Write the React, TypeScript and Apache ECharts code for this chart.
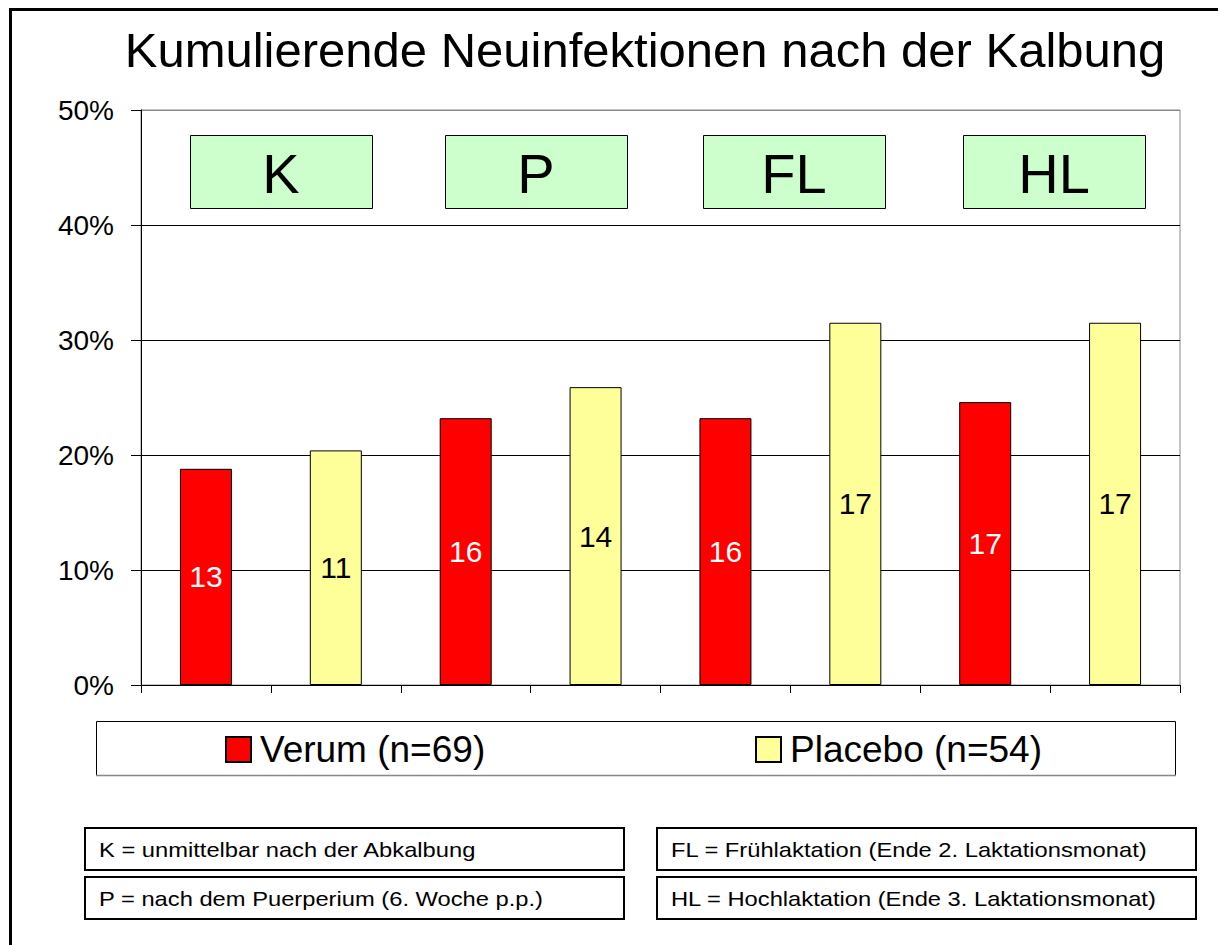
import React, { useEffect, useRef } from "react";
import * as echarts from "echarts";

const categories = ["K-V", "K-P", "P-V", "P-P", "FL-V", "FL-P", "HL-V", "HL-P"];
const verumPct = [18.8, "-", 23.2, "-", 23.2, "-", 24.6, "-"];
const placeboPct = ["-", 20.4, "-", 25.9, "-", 31.5, "-", 31.5];
const verumCounts = [13, null, 16, null, 16, null, 17, null];
const placeboCounts = [null, 11, null, 14, null, 17, null, 17];
const yTicks = [0, 10, 20, 30, 40, 50];
const phaseLabels = ["K", "P", "FL", "HL"];
const seriesNames = ["Verum (n=69)", "Placebo (n=54)"];
const notes = [
  "K = unmittelbar nach der Abkalbung",
  "P = nach dem Puerperium (6. Woche p.p.)",
  "FL = Frühlaktation (Ende 2. Laktationsmonat)",
  "HL = Hochlaktation (Ende 3. Laktationsmonat)",
];

const FONT = "'Liberation Sans', Arial, sans-serif";

export default function App() {
  const ref = useRef<HTMLDivElement>(null);
  useEffect(() => {
    document.body.style.margin = "0";
    const chart = echarts.init(ref.current!, null, { renderer: "svg" });
    const phaseBoxX = [190, 445, 703, 963];
    const graphics: any[] = [];
    // outer frame (top + left)
    graphics.push({ type: "line", shape: { x1: 9, y1: 9.5, x2: 1218, y2: 9.5 }, style: { stroke: "#000", lineWidth: 3 } });
    graphics.push({ type: "line", shape: { x1: 10.5, y1: 8, x2: 10.5, y2: 945 }, style: { stroke: "#000", lineWidth: 3 } });
    phaseLabels.forEach((lab, i) => {
      graphics.push({
        type: "group",
        children: [
          { type: "rect", shape: { x: phaseBoxX[i] + 0.5, y: 135.5, width: 182, height: 73 }, style: { fill: "#ccffcc", stroke: "#000", lineWidth: 1 } },
          { type: "text", x: phaseBoxX[i] + 91, y: 173, style: { text: lab, font: `56px ${FONT}`, fill: "#000", align: "center", verticalAlign: "middle" } },
        ],
      });
    });
    // legend box
    graphics.push({ type: "rect", z: -1, shape: { x: 96.5, y: 721.5, width: 1079, height: 54 }, style: { fill: "#fff", stroke: "#000", lineWidth: 1 } });
    graphics.push({ type: "line", z: 0, shape: { x1: 96, y1: 775.5, x2: 1176, y2: 775.5 }, style: { stroke: "#888", lineWidth: 1.5 } });
    // notes boxes
    const noteBoxes = [
      [85, 828],
      [85, 877],
      [657, 828],
      [657, 877],
    ];
    notes.forEach((txt, i) => {
      const [x, y] = noteBoxes[i];
      graphics.push({ type: "rect", shape: { x: x, y: y, width: 539, height: 42 }, style: { fill: "#fff", stroke: "#000", lineWidth: 2 } });
      graphics.push({ type: "text", x: x + 14, y: y + 22, scaleX: 1.13, style: { text: txt, font: `21px ${FONT}`, fill: "#000", align: "left", verticalAlign: "middle" } });
    });

    const legendCommon = {
      icon: "rect",
      itemWidth: 25,
      itemHeight: 25,
      top: 731,
      padding: 0,
      textStyle: { fontFamily: FONT, fontSize: 37, color: "#000", padding: [0, 0, 0, 4] },
    };

    chart.setOption({
      animation: false,
      backgroundColor: "#fff",
      title: {
        text: "Kumulierende Neuinfektionen nach der Kalbung",
        left: 640,
        textAlign: "center",
        top: 20,
        textStyle: { fontFamily: FONT, fontSize: 49, fontWeight: "normal", color: "#000" },
      },
      grid: { left: 141, right: 41, top: 110, bottom: 260, show: true, borderColor: "#888", borderWidth: 1, backgroundColor: "#fff" },
      legend: [
        { ...legendCommon, data: [seriesNames[0]], left: 225 },
        { ...legendCommon, data: [seriesNames[1]], left: 755 },
      ],
      xAxis: {
        type: "category",
        data: categories,
        boundaryGap: true,
        axisLine: { lineStyle: { color: "#000", width: 1 } },
        axisTick: { show: true, length: 8, alignWithLabel: false, lineStyle: { color: "#000" } },
        axisLabel: { show: false },
        splitLine: { show: false },
      },
      yAxis: {
        type: "value",
        min: yTicks[0],
        max: yTicks[yTicks.length - 1],
        interval: 10,
        axisLine: { show: true, lineStyle: { color: "#000", width: 1 } },
        axisTick: { show: true, length: 10, lineStyle: { color: "#000" } },
        axisLabel: { formatter: "{value}%", fontFamily: FONT, fontSize: 28, color: "#000", margin: 27 },
        splitLine: { show: true, lineStyle: { color: ["#000", "#000", "#000", "#000", "#000", "#888"], width: 1 } },
      },
      series: [
        {
          name: seriesNames[0],
          type: "bar",
          stack: "s",
          barWidth: 52,
          data: verumPct,
          itemStyle: { color: "#ff0000", borderColor: "#000", borderWidth: 1 },
          label: {
            show: true,
            position: "inside",
            fontFamily: FONT,
            fontSize: 30,
            color: "#fff",
            formatter: (p: any) => (verumCounts[p.dataIndex] == null ? "" : String(verumCounts[p.dataIndex])),
          },
        },
        {
          name: seriesNames[1],
          type: "bar",
          stack: "s",
          barWidth: 52,
          data: placeboPct,
          itemStyle: { color: "#ffff99", borderColor: "#000", borderWidth: 1 },
          label: {
            show: true,
            position: "inside",
            fontFamily: FONT,
            fontSize: 30,
            color: "#000",
            formatter: (p: any) => (placeboCounts[p.dataIndex] == null ? "" : String(placeboCounts[p.dataIndex])),
          },
        },
      ],
      graphic: graphics,
    });
    return () => chart.dispose();
  }, []);
  return <div ref={ref} style={{ width: 1221, height: 945 }} />;
}
